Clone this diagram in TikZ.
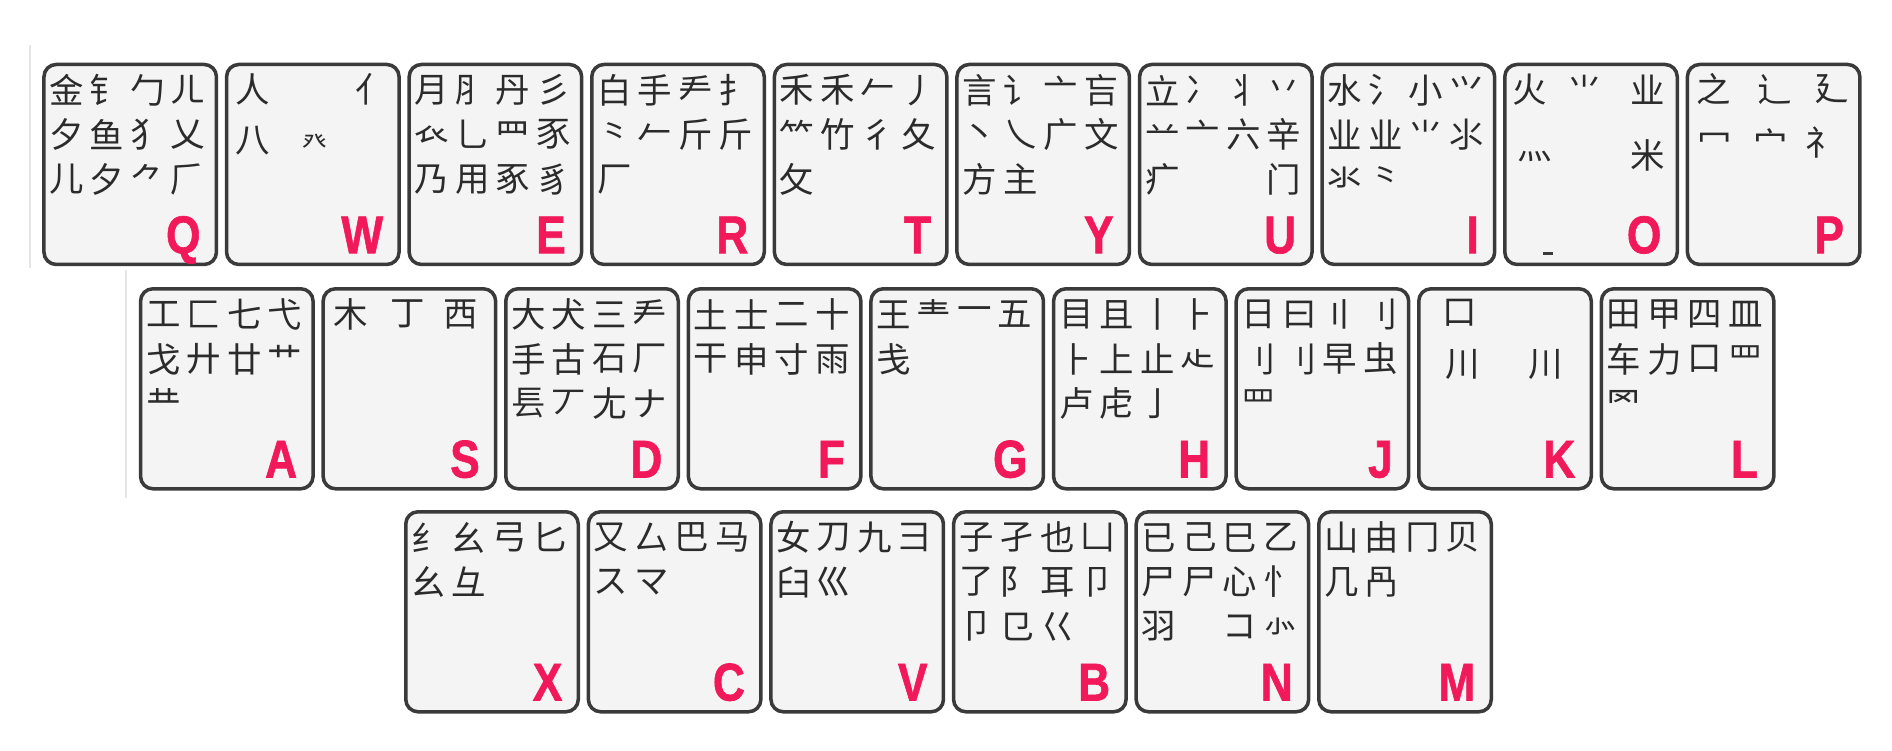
\documentclass[tikz,border=0pt]{standalone}
\usepackage{fontspec}
\setmainfont{Liberation Sans}
\newfontfamily\cjk{Noto Sans CJK SC}
\newfontfamily\capfont{Liberation Sans}[BoldFeatures={FakeBold=1.3}]
\usetikzlibrary{positioning}
\definecolor{keyfill}{HTML}{F4F4F4}
\definecolor{keyedge}{HTML}{3A3A3A}
\definecolor{keyred}{HTML}{F2195A}
\definecolor{rootink}{HTML}{2B2B2B}
\def\nochar{-}
% roots of one key, four to a row
\newcommand\rootgrid[2]{%
  \foreach \rt [count=\i from 0] in {#2} {%
    \ifx\rt\nochar\else
      \pgfmathsetmacro\dx{0.245+0.405*mod(\i,4)}%
      \pgfmathsetmacro\dy{-0.275-0.445*int(\i/4)}%
      \node[root] (r#1\i) at ([shift={(\dx,\dy)}]k#1.north west) {\rt};
    \fi
  }}

\begin{document}
\begin{tikzpicture}[
    keycap/.style={draw=keyedge,fill=keyfill,line width=1pt,rounded corners=3.5pt,
      minimum width=1.725cm,minimum height=2cm,inner sep=0pt,anchor=north west},
    keyletter/.style={text=keyred,font=\capfont\bfseries\fontsize{14}{14}\selectfont,
      inner sep=0pt,anchor=base east},
    root/.style={text=rootink,font=\cjk\fontsize{9.8}{10}\selectfont,inner sep=0pt},
    smallroot/.style={root,font=\cjk\fontsize{7}{8}\selectfont}
  ]
  \useasboundingbox (0,0) rectangle (18.92,-7.5);
  % faint edges of the scan
  \draw[gray!20,line width=0.6pt] (0.30,-0.45) -- (0.30,-2.68);
  \draw[gray!20,line width=0.6pt] (1.26,-2.70) -- (1.26,-4.98);

  \foreach \ltr [count=\i from 0] in {Q,W,E,R,T,Y,U,I,O,P}
    \node[keycap] (k\ltr) at (0.422+1.826*\i,-0.627) {};
  \foreach \ltr [count=\i from 0] in {A,S,D,F,G,H,J,K,L}
    \node[keycap] (k\ltr) at (1.388+1.826*\i,-2.87) {};
  \foreach \ltr [count=\i from 0] in {X,C,V,B,N,M}
    \node[keycap] (k\ltr) at (4.04+1.826*\i,-5.10) {};

  \foreach \ltr in {Q,W,E,R,T,Y,U,I,O,P,A,S,D,F,G,H,J,K,L,X,C,V,B,N,M}
    \node[keyletter] (l\ltr) at ([xshift=-0.17cm,yshift=0.13cm]k\ltr.south east)
      {\scalebox{0.9}[1.08]{\ltr}};

  \rootgrid{Q}{金,钅,勹,ㄦ,夕,鱼,犭,乂,儿,夕,⺈,𠂆}
  \rootgrid{E}{月,⺼,丹,彡,𧘇,乚,⺫,豕,乃,用,豖,豸}
  \rootgrid{R}{白,手,龵,扌,⺀,𠂉,斤,斤,厂}
  \rootgrid{T}{禾,禾,𠂉,丿,⺮,竹,彳,夂,攵}
  \rootgrid{Y}{言,讠,亠,吂,丶,乀,广,文,方,主}
  \rootgrid{U}{立,冫,丬,丷,䒑,亠,六,辛,疒,-,-,门}
  \rootgrid{I}{水,氵,小,⺍,业,业,⺌,⺢,氺,⺀}
  \rootgrid{A}{工,匚,七,弋,戈,廾,廿,艹,龷}
  \rootgrid{D}{大,犬,三,龵,手,古,石,厂,镸,丆,尢,ナ}
  \rootgrid{F}{土,士,二,十,干,申,寸,雨}
  \rootgrid{G}{王,龶,一,五,戋}
  \rootgrid{H}{目,且,丨,⺊,⺊,上,止,龰,卢,虍,亅}
  \rootgrid{J}{日,曰,〢,刂,⺉,刂,早,虫,罒}
  \rootgrid{L}{田,甲,四,皿,车,力,口,罒,罓}
  \rootgrid{X}{纟,幺,弓,匕,⺓,彑}
  \rootgrid{C}{又,厶,巴,马,ス,マ}
  \rootgrid{V}{女,刀,九,彐,臼,巛}
  \rootgrid{B}{子,孑,也,凵,了,阝,耳,卩,卩,㔾,巜}
  \rootgrid{N}{已,己,巳,乙,尸,尸,心,忄,羽,-,コ,⺗}
  \rootgrid{M}{山,由,冂,贝,几,冎}

  \node[root] (rW0) at ([shift={(0.28,-0.27)}]kW.north west) {人};
  \node[root] (rW1) at ([shift={(1.48,-0.27)}]kW.north west) {亻};
  \node[root] (rW2) at ([shift={(0.28,-0.78)}]kW.north west) {八};
  \node[smallroot] (rW3) at ([shift={(0.90,-0.80)}]kW.north west) {癶};

  \node[root] (rS0) at ([shift={(0.29,-0.27)}]kS.north west) {木};
  \node[root] (rS1) at ([shift={(0.86,-0.27)}]kS.north west) {丁};
  \node[root] (rS2) at ([shift={(1.39,-0.27)}]kS.north west) {西};

  \node[root] (rK0) at ([shift={(0.43,-0.26)}]kK.north west) {口};
  \node[root] (rK1) at ([shift={(0.46,-0.77)}]kK.north west) {川};
  \node[root] (rK2) at ([shift={(1.29,-0.77)}]kK.north west) {川};

  \node[root] (rO0) at ([shift={(0.27,-0.27)}]kO.north west) {火};
  \node[root] (rO1) at ([shift={(0.82,-0.27)}]kO.north west) {⺌};
  \node[root] (rO2) at ([shift={(1.45,-0.27)}]kO.north west) {业};
  \node[root] (rO3) at ([shift={(0.32,-0.94)}]kO.north west) {灬};
  \node[root] (rO4) at ([shift={(1.45,-0.93)}]kO.north west) {米};
  \draw[keyedge,line width=1pt] ([shift={(0.40,-1.91)}]kO.north west) -- ++(0.1,0);

  \node[root] (rP0) at ([shift={(0.28,-0.265)}]kP.north west) {之};
  \node[root] (rP1) at ([shift={(0.89,-0.265)}]kP.north west) {辶};
  \node[root] (rP2) at ([shift={(1.46,-0.265)}]kP.north west) {廴};
  \node[root] (rP3) at ([shift={(0.29,-0.80)}]kP.north west) {冖};
  \node[root] (rP4) at ([shift={(0.85,-0.80)}]kP.north west) {宀};
  \node[root] (rP5) at ([shift={(1.37,-0.80)}]kP.north west) {礻};
\end{tikzpicture}
\end{document}
